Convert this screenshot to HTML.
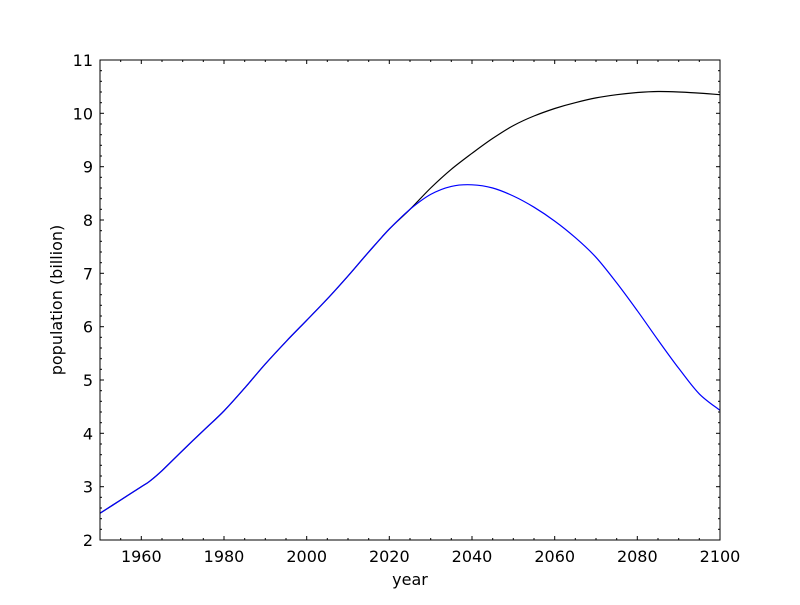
<!DOCTYPE html>
<html><head><meta charset="utf-8"><style>
body{margin:0;background:#fff;}
svg text{font-family:"DejaVu Sans","Liberation Sans",sans-serif;font-size:16px;fill:#000;}
</style></head><body>
<svg id="s" width="800" height="600" xmlns="http://www.w3.org/2000/svg">
<rect width="800" height="600" fill="#fff"/>
<g id="g"></g>
<rect x="100" y="60" width="620" height="480" fill="none" stroke="#000" stroke-width="1"/>
<text x="410" y="585" text-anchor="middle">year</text>
<text transform="translate(62,300) rotate(-90)" text-anchor="middle">population (billion)</text>
</svg>
<script>
const X=y=>100+(y-1950)*620/150, Y=v=>540-(v-2)*480/9;
let h='';
for(let yr=1950;yr<=2100;yr+=5){const x=X(yr).toFixed(1);const L=yr%20==0?4:2;
h+=`<line x1="${x}" y1="540" x2="${x}" y2="${540-L}" stroke="#000"/><line x1="${x}" y1="60" x2="${x}" y2="${60+L}" stroke="#000"/>`;
if(yr%20==0&&yr>1950)h+=`<text x="${x}" y="562" text-anchor="middle">${yr}</text>`;}
for(let i=0;i<=45;i++){const v=2+i*0.2;const y=Y(v).toFixed(1);const L=i%5==0?4:2;
h+=`<line x1="100" y1="${y}" x2="${100+L}" y2="${y}" stroke="#000"/><line x1="720" y1="${y}" x2="${720-L}" y2="${y}" stroke="#000"/>`;
if(i%5==0)h+=`<text x="93" y="${(+y+6).toFixed(1)}" text-anchor="end">${Math.round(v)}</text>`;}
const base=[[1950,2.5],[1955,2.75],[1960,3.0],[1962,3.1],[1965,3.3],[1970,3.68],[1975,4.05],[1980,4.42],[1985,4.85],[1990,5.3],[1995,5.72],[2000,6.12],[2005,6.52],[2010,6.95],[2015,7.4],[2020,7.83],[2025,8.2]];
const blue=base.concat([[2030,8.48],[2035,8.63],[2040,8.66],[2045,8.6],[2050,8.45],[2055,8.24],[2060,7.98],[2065,7.67],[2070,7.3],[2075,6.82],[2080,6.3],[2085,5.75],[2090,5.22],[2095,4.74],[2100,4.43]]);
const black=base.concat([[2030,8.6],[2035,8.95],[2040,9.25],[2045,9.53],[2050,9.77],[2055,9.95],[2060,10.09],[2065,10.2],[2070,10.29],[2075,10.35],[2080,10.39],[2085,10.41],[2090,10.4],[2095,10.38],[2100,10.35]]);
function path(a){const p=a.map(q=>[X(q[0]),Y(q[1])]);let d=`M${p[0][0].toFixed(1)},${p[0][1].toFixed(1)}`;
for(let i=0;i<p.length-1;i++){const p0=p[Math.max(0,i-1)],p1=p[i],p2=p[i+1],p3=p[Math.min(p.length-1,i+2)];
const c1=[p1[0]+(p2[0]-p0[0])/6,p1[1]+(p2[1]-p0[1])/6],c2=[p2[0]-(p3[0]-p1[0])/6,p2[1]-(p3[1]-p1[1])/6];
d+=` C${c1[0].toFixed(1)},${c1[1].toFixed(1)} ${c2[0].toFixed(1)},${c2[1].toFixed(1)} ${p2[0].toFixed(1)},${p2[1].toFixed(1)}`;}return d;}
h+=`<path d="${path(black)}" fill="none" stroke="#000" stroke-width="1.2"/>`;
h+=`<path d="${path(blue)}" fill="none" stroke="#00f" stroke-width="1.2"/>`;
document.getElementById('g').innerHTML=h;
</script>
</body></html>
